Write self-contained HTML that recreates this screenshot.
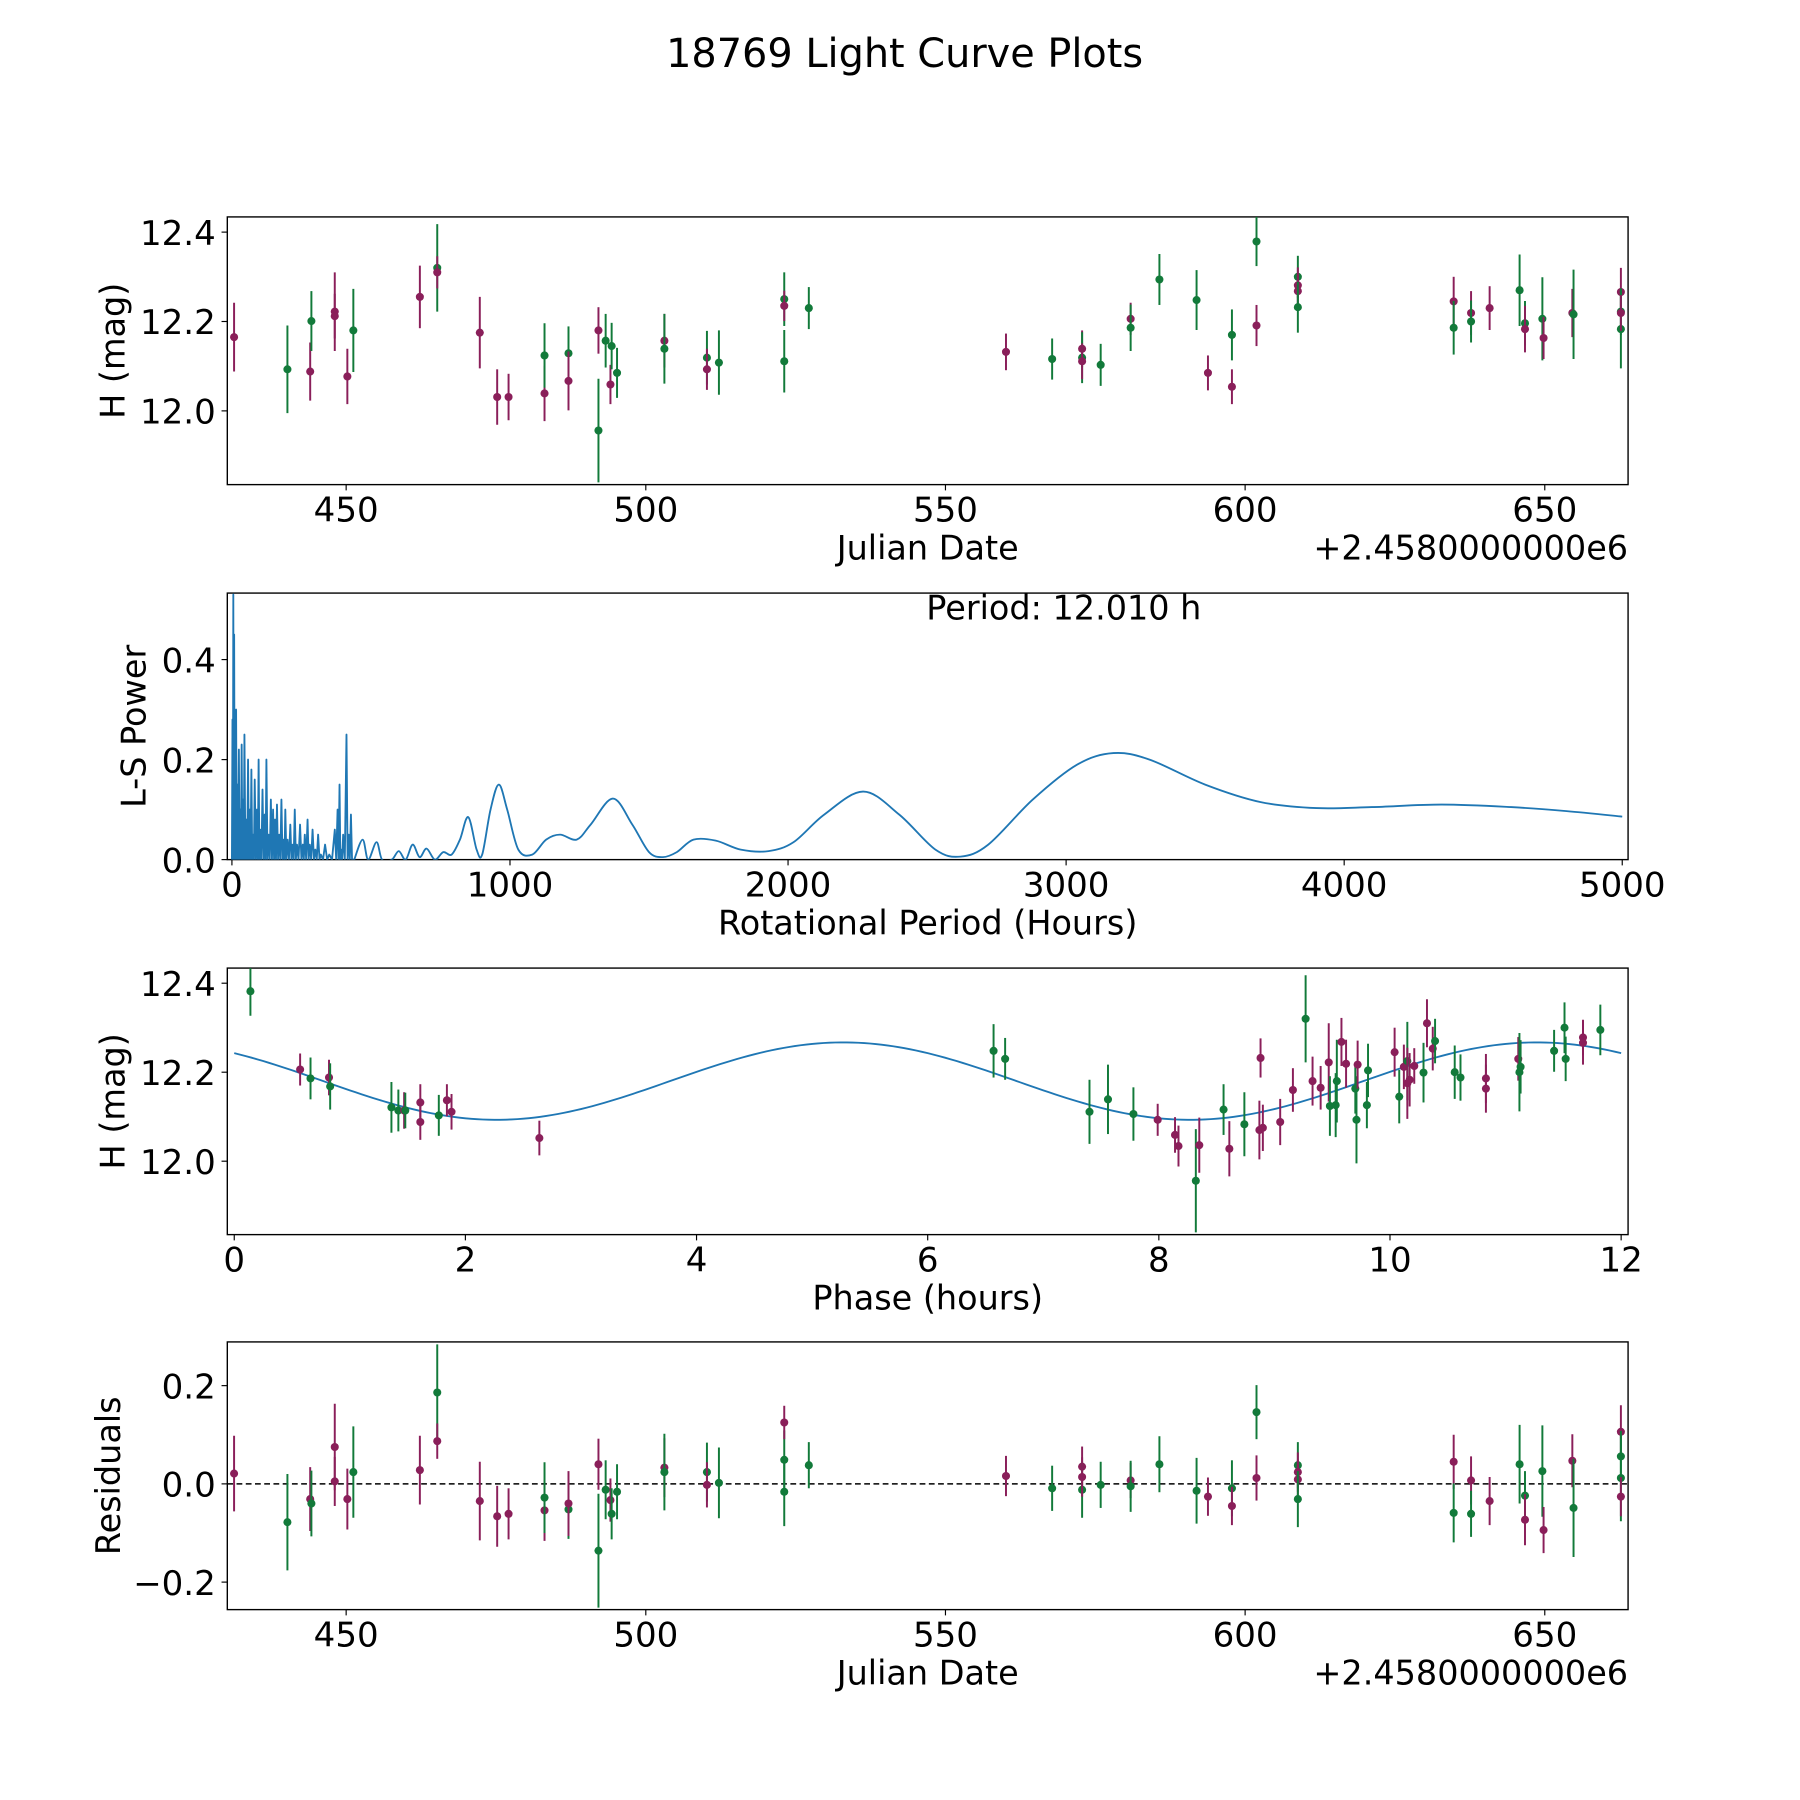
<!DOCTYPE html>
<html><head><meta charset="utf-8"><style>
html,body{margin:0;padding:0;background:#fff}
svg{display:block;font-family:"DejaVu Sans","Liberation Sans",sans-serif}
</style></head><body>
<svg id="fig" width="1800" height="1800" viewBox="0 0 1560 1560" xmlns="http://www.w3.org/2000/svg">
<rect width="1560" height="1560" fill="#fff"/>
<text x="784" y="58" font-size="34.5" text-anchor="middle">18769 Light Curve Plots</text>
</svg>
<script>
// ---- Data ----
const lcDates = [431.3,440.2,444.0,444.2,448.1,448.1,450.2,451.2,462.3,465.2,465.2,472.3,475.2,477.1,483.1,483.1,487.1,487.1,492.1,492.1,493.3,494.1,494.3,495.2,503.1,503.1,510.2,510.2,512.2,523.1,523.1,523.1,527.2,560.1,567.8,572.8,572.8,572.8,575.9,580.9,580.9,585.7,591.9,593.8,597.8,597.8,601.9,601.9,608.8,608.8,608.8,608.8,634.8,634.8,637.7,637.7,640.8,645.8,646.7,646.7,649.6,649.8,654.6,654.8,662.7,662.7,662.7,662.7];
const lcMags = [12.165,12.093,12.088,12.201,12.222,12.212,12.077,12.18,12.255,12.32,12.31,12.175,12.031,12.031,12.039,12.124,12.129,12.067,12.18,11.956,12.157,12.059,12.145,12.085,12.157,12.139,12.119,12.093,12.108,12.25,12.235,12.111,12.23,12.132,12.116,12.139,12.119,12.111,12.103,12.206,12.186,12.294,12.248,12.085,12.17,12.054,12.379,12.191,12.3,12.281,12.268,12.232,12.245,12.186,12.219,12.2,12.23,12.27,12.196,12.183,12.206,12.163,12.219,12.216,12.266,12.222,12.183,12.219];
const lcErrs = [0.077,0.098,0.065,0.067,0.088,0.05,0.062,0.093,0.07,0.098,0.036,0.08,0.062,0.052,0.062,0.072,0.06,0.066,0.052,0.116,0.06,0.044,0.052,0.056,0.06,0.078,0.06,0.046,0.072,0.06,0.034,0.07,0.047,0.041,0.046,0.041,0.057,0.04,0.047,0.036,0.052,0.057,0.067,0.039,0.057,0.039,0.055,0.046,0.047,0.04,0.04,0.057,0.055,0.06,0.049,0.047,0.049,0.08,0.05,0.052,0.093,0.047,0.054,0.1,0.054,0.052,0.088,0.04];
const lcColors = ['p','g','p','g','p','p','p','g','p','g','p','p','p','p','p','g','g','p','p','g','g','p','g','g','p','g','g','p','g','g','p','g','g','p','g','p','g','p','g','p','g','g','g','p','g','p','g','p','g','p','p','g','p','g','p','g','p','g','g','p','g','p','p','g','p','g','g','p'];

const lsNoisePeriods = [2,5,8,12,15,20,25,30,35,40,45,52,58,64,70,76,82,90,96,102,110,118,124,132,140,148,155,162,170,178,186,192,200,210,218,226,234,245,255,262,272,280,290,300,310,320,335,350,370,380,387,393,400,412,420,428];
const lsNoisePowers = [0.28,0.53,0.45,0.22,0.3,0.15,0.22,0.1,0.23,0.12,0.25,0.08,0.2,0.1,0.18,0.05,0.16,0.1,0.2,0.06,0.14,0.09,0.2,0.05,0.12,0.1,0.08,0.11,0.05,0.12,0.04,0.1,0.04,0.07,0.03,0.1,0.03,0.07,0.03,0.05,0.08,0.03,0.06,0.02,0.05,0.01,0.03,0.01,0.06,0.1,0.15,0.02,0.05,0.25,0.05,0.09];
const lsPeriods = [440,470,490,520,540,575,600,625,650,675,700,730,760,790,820,850,880,900,930,960,990,1030,1080,1130,1180,1240,1290,1370,1440,1500,1550,1600,1660,1740,1830,1930,2020,2130,2270,2400,2530,2620,2720,2880,3040,3170,3300,3500,3700,3900,4100,4350,4600,4800,5000];
const lsPowers = [0.0,0.04,0.0,0.035,0.0,0.0,0.017,0.0,0.03,0.005,0.022,0.0,0.015,0.01,0.04,0.085,0.02,0.01,0.1,0.15,0.1,0.02,0.01,0.04,0.05,0.04,0.07,0.122,0.07,0.015,0.005,0.015,0.04,0.038,0.02,0.017,0.035,0.09,0.136,0.09,0.02,0.006,0.03,0.12,0.19,0.213,0.2,0.15,0.115,0.103,0.105,0.11,0.105,0.097,0.086];

const phPhases = [0.14,0.57,0.66,0.82,0.83,1.36,1.42,1.47,1.48,1.61,1.61,1.77,1.84,1.88,2.64,6.57,6.67,7.40,7.56,7.78,7.99,8.14,8.17,8.32,8.35,8.56,8.61,8.74,8.87,8.88,8.90,9.05,9.16,9.27,9.33,9.40,9.47,9.48,9.53,9.54,9.58,9.62,9.70,9.71,9.72,9.80,9.81,10.04,10.08,10.12,10.15,10.15,10.17,10.21,10.29,10.32,10.37,10.39,10.56,10.61,10.83,10.83,11.11,11.12,11.13,11.42,11.51,11.52,11.67,11.67,11.82];
const phMags = [12.382,12.206,12.186,12.188,12.168,12.121,12.114,12.114,12.114,12.132,12.088,12.103,12.137,12.111,12.052,12.248,12.23,12.111,12.139,12.106,12.093,12.059,12.034,11.956,12.036,12.116,12.028,12.083,12.07,12.232,12.075,12.088,12.16,12.32,12.18,12.165,12.222,12.124,12.126,12.18,12.268,12.219,12.163,12.093,12.217,12.126,12.204,12.245,12.145,12.212,12.225,12.175,12.183,12.214,12.199,12.31,12.253,12.27,12.2,12.188,12.186,12.163,12.23,12.2,12.212,12.248,12.3,12.23,12.278,12.266,12.295];
const phErrs = [0.055,0.036,0.047,0.04,0.052,0.057,0.047,0.041,0.04,0.041,0.04,0.046,0.036,0.04,0.039,0.06,0.047,0.072,0.078,0.06,0.036,0.04,0.046,0.116,0.062,0.057,0.062,0.072,0.066,0.044,0.052,0.052,0.049,0.098,0.055,0.049,0.088,0.067,0.072,0.093,0.054,0.054,0.056,0.098,0.054,0.052,0.06,0.055,0.06,0.05,0.088,0.08,0.06,0.04,0.067,0.054,0.049,0.05,0.06,0.052,0.055,0.054,0.049,0.088,0.06,0.047,0.057,0.05,0.04,0.049,0.057];
const phColors = ['g','p','g','p','g','g','g','p','g','p','p','g','p','p','p','g','g','g','g','g','p','p','p','g','p','g','p','g','p','p','p','p','p','g','p','p','p','g','g','g','p','p','g','g','p','g','g','p','g','p','g','p','p','p','g','p','p','g','g','g','p','p','p','g','g','g','g','g','p','p','g'];
const fitParams = [12.18, 0.087, 5.27, 6.0];

const resDates = lcDates;
const resValues = [0.021,-0.078,-0.031,-0.04,0.075,0.005,-0.031,0.024,0.028,0.186,0.087,-0.035,-0.066,-0.061,-0.054,-0.028,-0.052,-0.04,0.04,-0.136,-0.012,-0.033,-0.061,-0.016,0.033,0.024,0.024,-0.002,0.002,0.049,0.125,-0.016,0.038,0.016,-0.009,0.035,-0.012,0.014,-0.002,0.007,-0.005,0.04,-0.014,-0.026,-0.009,-0.045,0.146,0.012,0.038,0.024,0.009,-0.031,0.045,-0.059,0.007,-0.061,-0.035,0.04,-0.024,-0.073,0.026,-0.094,0.047,-0.049,0.106,0.056,0.012,-0.026];
const resColors = lcColors;

const xTicksJD = [450,500,550,600,650];
const yTicksMag = [12.0,12.2,12.4];
const xTicksLS = [0,1000,2000,3000,4000,5000];
const yTicksLS = [0.0,0.2,0.4];
const xTicksPh = [0,2,4,6,8,10,12];
const yTicksRes = [-0.2,0.0,0.2];

// ---- Drawing ----
const NS='http://www.w3.org/2000/svg';
const svg=document.getElementById('fig');
const COL={p:'#8a1f5a',g:'#127a3a'};
const TF=29.5, LF=29;
function mk(tag,attrs,parent){const e=document.createElementNS(NS,tag);for(const k in attrs)e.setAttribute(k,attrs[k]);(parent||svg).appendChild(e);return e;}
function scale(d0,d1,r0,r1){return v=>r0+(v-d0)/(d1-d0)*(r1-r0);}
const L=197,R=1411;
function axes(name,top,bot,xs,ys,xt,yt,fmtX,fmtY,xlabel,ylabel,ylabelX){
  const g=mk('g',{});
  
  
  const fr=mk('rect',{x:L,y:top,width:R-L,height:bot-top,fill:'none',stroke:'#000','stroke-width':1.2},g);
  
  
  xt.forEach(v=>{const x=xs(v);mk('line',{x1:x,x2:x,y1:bot,y2:bot+5,stroke:'#000','stroke-width':1},g);
    const t=mk('text',{x:x,y:bot+32,'font-size':TF,'text-anchor':'middle'},g);t.textContent=fmtX(v);
    
    });
  yt.forEach(v=>{const y=ys(v);mk('line',{x1:L,x2:L-5,y1:y,y2:y,stroke:'#000','stroke-width':1},g);
    const t=mk('text',{x:L-10,y:y+11,'font-size':TF,'text-anchor':'end'},g);t.textContent=fmtY(v);
    
    });
  const xl=mk('text',{x:(L+R)/2,y:bot+65,'font-size':LF,'text-anchor':'middle'},g);xl.textContent=xlabel;
  
  
  const yl=mk('text',{x:ylabelX,y:(top+bot)/2,'font-size':LF,'text-anchor':'middle',transform:`rotate(-90 ${ylabelX} ${(top+bot)/2})`},g);yl.textContent=ylabel;
  
  
  return g;
}
function clip(id,top,bot){const c=mk('clipPath',{id:id});mk('rect',{x:L,y:top,width:R-L,height:bot-top},c);}
function points(gname,xs,ys,X,Y,E,C,clipId){
  const g=mk('g',{'clip-path':`url(#${clipId})`});
  
  
  X.forEach((xv,i)=>{const x=xs(xv),y=ys(Y[i]),c=COL[C[i]];
    if(E){const l=mk('line',{x1:x,x2:x,y1:ys(Y[i]+E[i]),y2:ys(Y[i]-E[i]),stroke:c,'stroke-width':1.7},g);
      
      }
    const m=mk('circle',{cx:x,cy:y,r:3.5,fill:c},g);
    
    });
}
const f2=v=>v.toFixed(1), f0=v=>String(v), fneg=v=>(v<0?'\u2212':'')+Math.abs(v).toFixed(1);

// Panel 1
{const top=188,bot=420;const xs=scale(430.17,663.9,L,R),ys=scale(11.835,12.434,bot,top);
 clip('c1',top,bot);
 axes('light-curve-axes',top,bot,xs,ys,xTicksJD,yTicksMag,f0,f2,'Julian Date','H (mag)',108);
 points('light-curve-points',xs,ys,lcDates,lcMags,lcErrs,lcColors,'c1');
 const o=mk('text',{x:R,y:bot+65,'font-size':LF,'text-anchor':'end'});o.textContent='+2.4580000000e6';
 
 }

// Panel 2
{const top=514,bot=745;const xs=scale(-16.6,5021,L,R),ys=scale(0,0.533,bot,top);
 clip('c2',top,bot);
 axes('periodogram-axes',top,bot,xs,ys,xTicksLS,yTicksLS,f0,f2,'Rotational Period (Hours)','L-S Power',126);
 let d=`M${xs(0)},${ys(0)}`;
 lsNoisePeriods.forEach((p,i)=>{d+=`L${xs(p)},${ys(lsNoisePowers[i])}`;const nx=i<lsNoisePeriods.length-1?(p+lsNoisePeriods[i+1])/2:p+4;d+=`L${xs(nx)},${ys(0)}`;});
 const P=lsPeriods.map((p,i)=>[xs(p),ys(lsPowers[i])]);
 d+=`L${P[0][0]},${P[0][1]}`;
 for(let i=0;i<P.length-1;i++){const p0=P[Math.max(0,i-1)],p1=P[i],p2=P[i+1],p3=P[Math.min(P.length-1,i+2)];
   const c1=[p1[0]+(p2[0]-p0[0])/6,p1[1]+(p2[1]-p0[1])/6],c2=[p2[0]-(p3[0]-p1[0])/6,p2[1]-(p3[1]-p1[1])/6];
   d+=`C${c1[0]},${c1[1]} ${c2[0]},${c2[1]} ${p2[0]},${p2[1]}`;}
 const pl=mk('path',{d:d,fill:'none',stroke:'#1f77b4','stroke-width':1.6,'stroke-linejoin':'round','clip-path':'url(#c2)'});
 
 
 const t=mk('text',{x:922,y:537,'font-size':LF,'text-anchor':'middle'});t.textContent='Period: 12.010 h';
 
 }

// Panel 3
{const top=839,bot=1070;const xs=scale(-0.06,12.06,L,R),ys=scale(11.835,12.434,bot,top);
 clip('c3',top,bot);
 axes('phase-axes',top,bot,xs,ys,xTicksPh,yTicksMag,f0,f2,'Phase (hours)','H (mag)',108);
 let d='';for(let i=0;i<=240;i++){const t=i*12/240;const m=fitParams[0]+fitParams[1]*Math.cos(2*Math.PI*(t-fitParams[2])/fitParams[3]);d+=(i?'L':'M')+xs(t)+','+ys(m);}
 const fl=mk('path',{d:d,fill:'none',stroke:'#1f77b4','stroke-width':1.6,'clip-path':'url(#c3)'});
 
 
 points('phase-points',xs,ys,phPhases,phMags,phErrs,phColors,'c3');}

// Panel 4
{const top=1163,bot=1395;const xs=scale(430.17,663.9,L,R),ys=scale(-0.256,0.289,bot,top);
 clip('c4',top,bot);
 axes('residuals-axes',top,bot,xs,ys,xTicksJD,yTicksRes,f0,fneg,'Julian Date','Residuals',104);
 const z=mk('line',{x1:L,x2:R,y1:ys(0),y2:ys(0),stroke:'#000','stroke-width':1.4,'stroke-dasharray':'5,3'});
 
 
 points('residual-points',xs,ys,resDates,resValues,lcErrs,resColors,'c4');
 const o=mk('text',{x:R,y:bot+65,'font-size':LF,'text-anchor':'end'});o.textContent='+2.4580000000e6';
 
 }
</script>
</body></html>
